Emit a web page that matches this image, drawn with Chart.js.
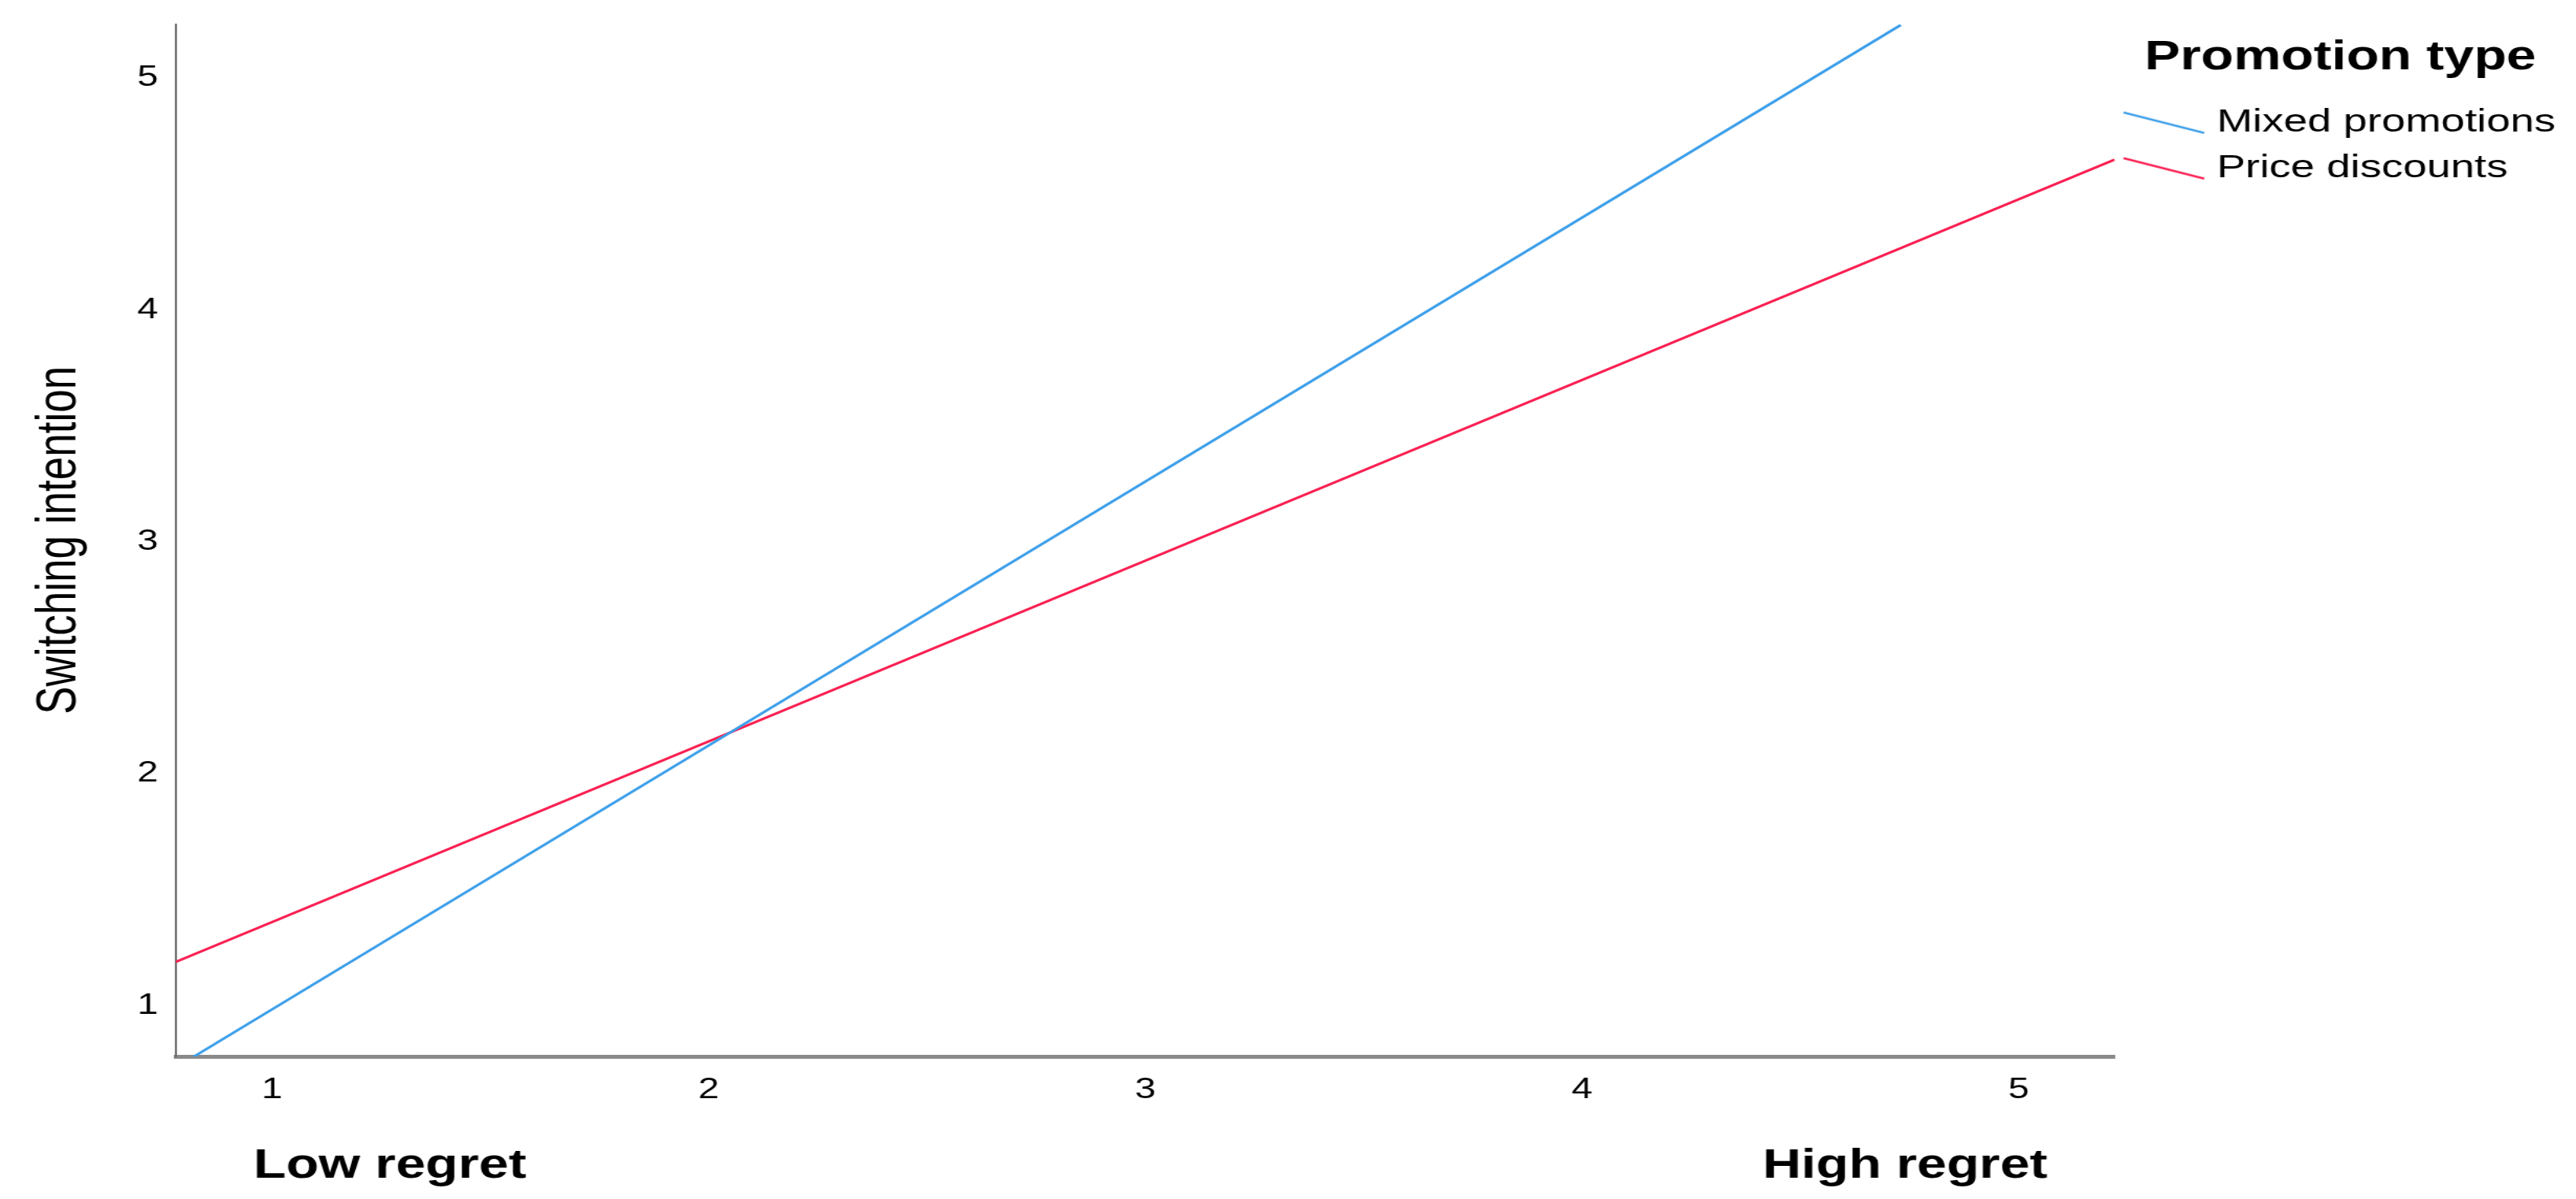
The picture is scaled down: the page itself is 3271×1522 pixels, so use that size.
<!DOCTYPE html>
<html>
<head>
<meta charset="utf-8">
<script src="https://cdn.jsdelivr.net/npm/chart.js@4.4.1/dist/chart.umd.min.js"></script>
<style>
  html, body { margin: 0; padding: 0; background: #fff; overflow: hidden; }
  #wrap { width: 3271px; height: 1522px; }
</style>
</head>
<body>
<!-- the original figure is stretched sideways, so the canvas is drawn narrower and widened by css -->
<div id="wrap"><canvas id="chart" width="2460" height="1522" style="width:3271px;height:1522px;display:block"></canvas></div>
<script>
// values
const regretTicks = [1, 2, 3, 4, 5];
const intentionTicks = [1, 2, 3, 4, 5];
const xRange = [0.78, 5.22];
const yRange = [0.782, 5.234];

const seriesNames = ["Mixed promotions", "Price discounts"];
const mixedX = [0.82, 4.73];
const mixedY = [0.78, 5.23];
const priceX = [0.78, 5.22];
const priceY = [1.19, 4.65];

const anchorLabels = ["Low regret", "High regret"];
const anchorPos = [1.27, 4.74];

const colors = ["#3d9fea", "#fa1e50"];

Chart.defaults.font.family = "'Liberation Sans', Arial, sans-serif";
Chart.defaults.color = "#000";

function toPoints(xs, ys) {
    return xs.map((x, i) => ({ x: x, y: ys[i] }));
}

// slanted line used as legend marker
function makeSample(color) {
    const c = document.createElement("canvas");
    c.width = 79;
    c.height = 30;
    const g = c.getContext("2d");
    g.strokeStyle = color;
    g.lineWidth = 2.5;
    g.beginPath();
    g.moveTo(1, 2);
    g.lineTo(78, 28);
    g.stroke();
    return c;
}
const samples = colors.map(makeSample);

function setTicks(values) {
    return scale => { scale.ticks = values.map(v => ({ value: v })); };
}

new Chart(document.getElementById("chart"), {
    type: "line",
    data: {
        datasets: [
            {
                label: seriesNames[0],
                data: toPoints(mixedX, mixedY),
                borderColor: colors[0],
                borderWidth: 3,
                pointRadius: 0,
                xAxisID: "x",
                yAxisID: "y"
            },
            {
                label: seriesNames[1],
                data: toPoints(priceX, priceY),
                borderColor: colors[1],
                borderWidth: 3,
                pointRadius: 0,
                xAxisID: "x",
                yAxisID: "y"
            }
        ]
    },
    options: {
        responsive: false,
        animation: false,
        events: [],
        layout: { padding: { top: 27, right: 9.5, bottom: 0, left: 0 } },
        plugins: {
            tooltip: { enabled: false },
            legend: {
                position: "right",
                align: "start",
                title: {
                    display: true,
                    text: "Promotion type",
                    color: "#000",
                    font: { size: 51, weight: "bold" },
                    padding: { top: 21, bottom: 9 }
                },
                labels: {
                    usePointStyle: true,
                    pointStyleWidth: 60,
                    boxHeight: 41,
                    padding: 17,
                    color: "#000",
                    font: { size: 41 },
                    generateLabels: chart => chart.data.datasets.map((ds, i) => ({
                        text: ds.label,
                        pointStyle: samples[i],
                        fillStyle: ds.borderColor,
                        strokeStyle: ds.borderColor,
                        lineWidth: 0,
                        hidden: false,
                        datasetIndex: i,
                        fontColor: "#000"
                    }))
                }
            }
        },
        scales: {
            x: {
                type: "linear",
                position: "bottom",
                min: xRange[0],
                max: xRange[1],
                afterBuildTicks: setTicks(regretTicks),
                afterFit: s => { s.height = 59; },
                grid: { display: false },
                border: { display: true, color: "#8a8a8a", width: 5 },
                ticks: { color: "#000", font: { size: 36 }, padding: 13, maxRotation: 0, autoSkip: false }
            },
            x2: {
                type: "linear",
                position: "bottom",
                min: xRange[0],
                max: xRange[1],
                afterBuildTicks: setTicks(anchorPos),
                afterFit: s => { s.height = 122; },
                grid: { display: false },
                border: { display: false },
                ticks: {
                    color: "#000",
                    font: { size: 51, weight: "bold" },
                    padding: 42,
                    maxRotation: 0,
                    autoSkip: false,
                    callback: (v, i) => anchorLabels[i]
                }
            },
            y: {
                type: "linear",
                min: yRange[0],
                max: yRange[1],
                afterBuildTicks: setTicks(intentionTicks),
                afterFit: s => { s.width = 168; },
                grid: { display: false },
                border: { display: true, color: "#6b6b6b", width: 2 },
                ticks: { color: "#000", font: { size: 36 }, padding: 9 },
                title: {
                    display: true,
                    text: "Switching intention",
                    color: "#000",
                    font: { size: 53 },
                    padding: { top: 26, bottom: 0 }
                }
            }
        }
    }
});
</script>
</body>
</html>
